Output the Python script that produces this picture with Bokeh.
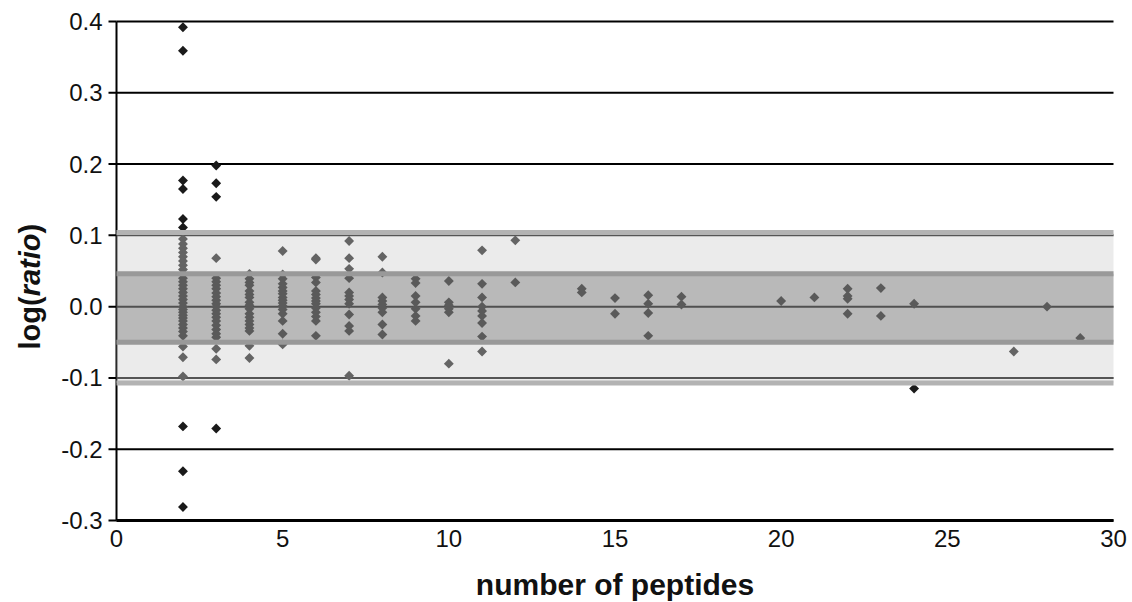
import math
from bokeh.plotting import figure
from bokeh.models import Range1d, ColumnDataSource
from bokeh.core.properties import value
from bokeh.embed import file_html
from bokeh.resources import INLINE

# ---- data: log(ratio) per protein, grouped by number of peptides ----
peptides = [2, 3, 4, 5, 6, 7, 8, 9, 10, 11, 12, 14, 15, 16, 17, 20, 21, 22, 23, 24, 27, 28, 29]
log_ratios = [
    [0.392, 0.359, 0.177, 0.165, 0.123, 0.111, 0.095, 0.088, 0.082, 0.076, 0.070, 0.064,
     0.058, 0.052, 0.046, 0.040, 0.035, 0.030, 0.025, 0.020, 0.015, 0.010, 0.005, 0.000,
     -0.004, -0.008, -0.012, -0.016, -0.020, -0.025, -0.030, -0.035, -0.041, -0.056,
     -0.071, -0.098, -0.168, -0.231, -0.281],
    [0.198, 0.173, 0.154, 0.068, 0.040, 0.035, 0.030, 0.025, 0.019, 0.014, 0.009, 0.004,
     0.000, -0.005, -0.010, -0.015, -0.020, -0.026, -0.032, -0.038, -0.043, -0.059,
     -0.074, -0.171],
    [0.046, 0.039, 0.034, 0.030, 0.022, 0.017, 0.013, 0.006, 0.002, -0.003, -0.010,
     -0.015, -0.020, -0.025, -0.030, -0.034, -0.055, -0.072],
    [0.078, 0.045, 0.039, 0.032, 0.027, 0.022, 0.018, 0.013, 0.009, 0.005, 0.001,
     -0.004, -0.010, -0.020, -0.038, -0.053],
    [0.068, 0.066, 0.041, 0.034, 0.022, 0.017, 0.012, 0.008, 0.004, -0.002, -0.008,
     -0.014, -0.020, -0.041],
    [0.092, 0.068, 0.053, 0.040, 0.020, 0.015, 0.010, 0.004, -0.011, -0.027, -0.034, -0.097],
    [0.070, 0.048, 0.013, 0.008, 0.003, -0.002, -0.008, -0.025, -0.039],
    [0.039, 0.033, 0.015, 0.006, -0.003, -0.013, -0.020],
    [0.036, 0.006, 0.002, -0.003, -0.008, -0.080],
    [0.079, 0.032, 0.013, 0.000, -0.006, -0.013, -0.023, -0.042, -0.063],
    [0.093, 0.034],
    [0.025, 0.020],
    [0.012, -0.010],
    [0.016, 0.004, -0.009, -0.041],
    [0.014, 0.003],
    [0.008],
    [0.013],
    [0.025, 0.015, 0.011, -0.010],
    [0.026, -0.013],
    [0.004, -0.115],
    [-0.063],
    [0.000],
    [-0.044],
]
# confidence bands of log(ratio)
outer_band = (-0.107, 0.104)
inner_band = (-0.050, 0.046)
y_ticks = [-0.3, -0.2, -0.1, 0.0, 0.1, 0.2, 0.3, 0.4]
y_tick_labels = ["-0.3", "-0.2", "-0.1", "0.0", "0.1", "0.2", "0.3", "0.4"]
x_ticks = [0, 5, 10, 15, 20, 25, 30]
x_tick_labels = ["0", "5", "10", "15", "20", "25", "30"]
x_lim = (0, 30)
y_lim = (-0.3, 0.4)
x_title = "number of peptides"
y_label_parts = ["log(", "ratio", ")"]
y_label_styles = ["bold", "bold italic", "bold"]

xs, ys = [], []
for n, vals in zip(peptides, log_ratios):
    for v in vals:
        xs.append(n)
        ys.append(v)
src = ColumnDataSource(dict(x=xs, y=ys))

FONT = "Liberation Sans"
W, H = 1132, 602
# pixel placement of the plotting area inside the canvas
PX_L, PX_R, PX_T, PX_B = 116, 1113, 21, 520
px_per_x = (PX_R - PX_L) / (x_lim[1] - x_lim[0])
px_per_y = (PX_B - PX_T) / (y_lim[1] - y_lim[0])
xr = Range1d(x_lim[0] - PX_L / px_per_x, x_lim[1] + (W - PX_R) / px_per_x)
yr = Range1d(y_lim[0] - (H - PX_B) / px_per_y, y_lim[1] + PX_T / px_per_y)


def dx(px):
    return px / px_per_x


def dy(px):
    return px / px_per_y


p = figure(width=W, height=H, output_backend="svg", toolbar_location=None,
           x_range=xr, y_range=yr, x_axis_location=None, y_axis_location=None,
           min_border=0, min_border_left=0, min_border_right=0,
           min_border_top=0, min_border_bottom=0)
p.outline_line_color = None
p.background_fill_color = "white"
p.border_fill_color = "white"
p.xgrid.grid_line_color = None
p.ygrid.grid_line_color = None

n_t = len(y_ticks)
# horizontal grid lines
p.segment(x0=[x_lim[0]] * n_t, x1=[x_lim[1]] * n_t, y0=y_ticks, y1=y_ticks,
          line_color="black", line_width=2)
# y axis line, tick marks, tick labels
p.segment(x0=[x_lim[0]], x1=[x_lim[0]], y0=[y_lim[0]], y1=[y_lim[1]],
          line_color="black", line_width=2)
p.segment(x0=[x_lim[0] - dx(8)] * n_t, x1=[x_lim[0]] * n_t, y0=y_ticks, y1=y_ticks,
          line_color="black", line_width=2)
p.text(x=[x_lim[0] - dx(14)] * n_t, y=y_ticks, text=y_tick_labels,
       text_font=value(FONT), text_font_size="24px", text_color="#111111",
       text_align="right", text_baseline="middle")
# x axis line and tick labels
p.segment(x0=[x_lim[0]], x1=[x_lim[1]], y0=[y_lim[0]], y1=[y_lim[0]],
          line_color="black", line_width=3)
p.text(x=x_ticks, y=[y_lim[0] - dy(9)] * len(x_ticks), text=x_tick_labels,
       text_font=value(FONT), text_font_size="24px", text_color="#111111",
       text_align="center", text_baseline="top")
p.text(x=[(x_lim[0] + x_lim[1]) / 2], y=[y_lim[0] - dy(64)], text=[x_title],
       text_font=value(FONT), text_font_size="30px", text_font_style="bold",
       text_color="#111111", text_align="center", text_baseline="middle")

# points
p.scatter("x", "y", source=src, marker="square", angle=math.pi / 4, size=7,
          fill_color="#1a1a1a", line_color=None)

# bands drawn as translucent overlays (points inside appear grey)
p.quad(left=x_lim[0], right=x_lim[1], bottom=outer_band[0], top=outer_band[1],
       fill_color="#cfcfcf", fill_alpha=0.41, line_color=None)
p.quad(left=x_lim[0], right=x_lim[1], bottom=inner_band[0], top=inner_band[1],
       fill_color="#444444", fill_alpha=0.30, line_color=None)
p.segment(x0=[x_lim[0]] * 2, x1=[x_lim[1]] * 2, y0=list(outer_band), y1=list(outer_band),
          line_color="#b3b3b3", line_width=5)
p.segment(x0=[x_lim[0]] * 2, x1=[x_lim[1]] * 2, y0=list(inner_band), y1=list(inner_band),
          line_color="#999999", line_width=5)

# y-axis label: "log(" bold, "ratio" bold italic, ")" bold  (rotated)
fs = 29
em_widths = [1.833, 2.167, 0.333]
widths = [dy(e * fs) for e in em_widths]
y0 = 0.028 - sum(widths) / 2
x_lab = x_lim[0] - dx(PX_L - 29)
for part, style, w in zip(y_label_parts, y_label_styles, widths):
    p.text(x=[x_lab], y=[y0], text=[part], angle=math.pi / 2,
           text_font=value(FONT), text_font_size=f"{fs}px", text_font_style=style,
           text_color="#111111", text_align="left", text_baseline="middle")
    y0 += w

open("out.html", "w").write(file_html(p, INLINE))
